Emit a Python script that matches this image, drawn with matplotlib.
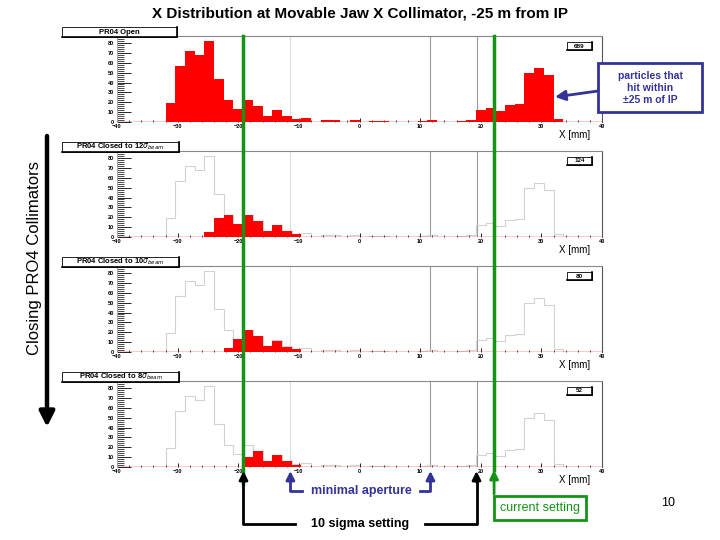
import matplotlib.pyplot as plt
import numpy as np
from matplotlib.patches import Rectangle

plt.rcParams['font.family'] = ['Liberation Sans', 'DejaVu Sans']

# 50 bins of 1.6 mm from -40 to 40
edges = np.linspace(-40, 40, 51)

open_counts = np.zeros(50)
open_counts[5:22] = [19, 57, 72, 68, 82, 44, 22, 13, 22, 16, 6, 12, 6, 3, 4, 0, 2]
open_counts[22] = 2
open_counts[24] = 2
open_counts[26:28] = [1, 1]
open_counts[31:33] = [1, 2]
open_counts[35:46] = [1, 2, 12, 14, 11, 17, 18, 50, 55, 48, 3]

closed12 = np.zeros(50)
closed12[9:19] = [5, 19, 22, 13, 22, 16, 6, 12, 6, 3]
closed10 = np.zeros(50)
closed10[11:19] = [4, 13, 22, 16, 6, 11, 5, 3]
closed8 = np.zeros(50)
closed8[13:19] = [10, 16, 6, 12, 6, 2]

panel_counts = [open_counts, closed12, closed10, closed8]
panel_titles = ['PR04 Open', r'PR04 Closed to 12$\sigma_{beam}$',
                r'PR04 Closed to 10$\sigma_{beam}$', r'PR04 Closed to 8$\sigma_{beam}$']
entries = ['689', '124', '80', '52']

aperture = [-11.4, 11.7]     # minimal aperture lines (mm)
ten_sigma = [-19.3, 19.3]    # 10 sigma setting (mm)
current = [-19.2, 22.2]      # current setting (mm)

W, H = 720, 540
X0, X1 = 117, 602            # axes pixel extent (x)
Y_TOP, Y_ZERO, STEP = 36, 121.7, 115


def mm2px(v):
    return X0 + (v + 40) * (X1 - X0) / 80.0


fig = plt.figure(figsize=(7.2, 5.4), dpi=100)

for i, counts in enumerate(panel_counts):
    top = Y_TOP + STEP * i
    bot = Y_ZERO + STEP * i
    ax = fig.add_axes([X0 / W, 1 - bot / H, (X1 - X0) / W, (bot - top) / H])
    ax.set_xlim(-40, 40)
    ax.set_ylim(0, 87.5)
    for v in aperture + ten_sigma:
        ax.axvline(v, color='#dddddd' if v < 0 else '#999999', lw=0.8, zorder=0)
    if i > 0:
        ax.stairs(open_counts, edges, color='#d2d2d2', lw=0.8, zorder=1)
    ax.stairs(counts, edges, fill=True, color='red', zorder=2)
    ax.axhline(0, color='red', lw=1, zorder=3)
    ax.set_yticks(np.arange(0, 81, 10))
    ax.set_yticks(np.arange(0, 85, 2), minor=True)
    ax.set_xticks(np.arange(-40, 41, 10))
    ax.set_xticks(np.arange(-40, 41, 2), minor=True)
    ax.tick_params(axis='y', which='major', direction='in', length=10, width=0.6,
                   labelsize=4, pad=2)
    ax.tick_params(axis='y', which='minor', direction='in', length=5, width=0.5)
    ax.tick_params(axis='x', which='major', direction='in', length=3, width=0.6,
                   labelsize=4, pad=2)
    ax.tick_params(axis='x', which='minor', direction='in', length=1.5, width=0.5)
    for lab in ax.get_xticklabels() + ax.get_yticklabels():
        lab.set_fontweight('bold')
    ax.spines['top'].set_color('#888888')
    ax.spines['right'].set_color('#555555')
    ax.spines['left'].set_color('#aaaaaa')
    ax.spines['bottom'].set_visible(False)
    for s in ax.spines.values():
        s.set_linewidth(0.8)

# overlay in pixel coordinates for annotations
ov = fig.add_axes([0, 0, 1, 1], zorder=10)
ov.set_xlim(0, W)
ov.set_ylim(H, 0)
ov.axis('off')
ov.patch.set_alpha(0)

for i in range(4):
    dy = STEP * i
    bw = 115 if i == 0 else 117
    ov.add_patch(Rectangle((62, 27 + dy), bw, 10, fc='white', ec='black', lw=0.6))
    ov.plot([62 + bw, 62 + bw, 62], [27 + dy, 37 + dy, 37 + dy], color='black', lw=1.2)
    ov.text(62 + bw / 2, 32 + dy, panel_titles[i], fontsize=5.5, fontweight='bold',
            ha='center', va='center')
    ov.add_patch(Rectangle((567, 42 + dy), 25, 8, fc='white', ec='black', lw=0.6))
    ov.plot([592, 592, 567], [42 + dy, 50 + dy, 50 + dy], color='black', lw=1.2)
    ov.text(579.5, 46 + dy, entries[i], fontsize=4.5, fontweight='bold',
            ha='center', va='center')
    ov.text(575, 135 + dy, 'X [mm]', fontsize=7, ha='center', va='center')

ov.text(360, 14, 'X Distribution at Movable Jaw X Collimator, -25 m from IP',
        fontsize=11, fontweight='bold', ha='center', va='center')

# closing arrow on the left
ov.annotate('', xy=(47, 427), xytext=(47, 136),
            arrowprops=dict(arrowstyle='-|>,head_width=0.45,head_length=0.9',
                            color='black', lw=3.2, shrinkA=0, shrinkB=0))
ov.text(35, 258, 'Closing PRO4 Collimators', fontsize=12, rotation=90,
        ha='center', va='center')

# current setting lines
green = '#149414'
ov.plot([mm2px(current[0])] * 2, [36, 484], color=green, lw=2.5)
ov.plot([mm2px(current[1])] * 2, [36, 470], color=green, lw=2.5)
ov.annotate('', xy=(mm2px(current[1]), 470), xytext=(mm2px(current[1]), 494),
            arrowprops=dict(arrowstyle='-|>,head_width=0.25,head_length=0.5',
                            color=green, lw=2, shrinkA=0, shrinkB=0))
ov.text(540, 508, 'current setting', fontsize=9, color=green, ha='center', va='center',
        bbox=dict(boxstyle='square,pad=0.5', fc='white', ec=green, lw=2))

# minimal aperture connector
navy = '#333399'
for xa, xb in [(mm2px(aperture[0]), 302), (mm2px(aperture[1]), 420)]:
    ov.plot([xb, xa, xa], [491, 491, 480], color=navy, lw=2)
    ov.annotate('', xy=(xa, 471), xytext=(xa, 482),
                arrowprops=dict(arrowstyle='-|>,head_width=0.25,head_length=0.5',
                                color=navy, lw=2, shrinkA=0, shrinkB=0))
ov.text(361, 491, 'minimal aperture', fontsize=9, fontweight='bold', color=navy,
        ha='center', va='center')

# 10 sigma connector
for xa, xb in [(mm2px(ten_sigma[0]) + 1, 295), (mm2px(ten_sigma[1]), 425)]:
    ov.plot([xb, xa, xa], [524, 524, 480], color='black', lw=2)
    ov.annotate('', xy=(xa, 471), xytext=(xa, 482),
                arrowprops=dict(arrowstyle='-|>,head_width=0.25,head_length=0.5',
                                color='black', lw=2, shrinkA=0, shrinkB=0))
ov.text(360, 524, '10 sigma setting', fontsize=9, fontweight='bold', color='black',
        ha='center', va='center')

# particles annotation
ov.add_patch(Rectangle((598, 63), 104, 49, fc='white', ec=navy, lw=2))
ov.text(650, 88, 'particles that\nhit within\n\u00b125 m of IP', fontsize=7.5,
        fontweight='bold', color=navy, ha='center', va='center', linespacing=1.2)
ov.annotate('', xy=(555, 97), xytext=(598, 91),
            arrowprops=dict(arrowstyle='-|>,head_width=0.3,head_length=0.6',
                            color=navy, lw=2, shrinkA=0, shrinkB=0))

ov.text(668, 503, '10', fontsize=9, ha='center', va='center')

fig.savefig('out.png', dpi=100)
